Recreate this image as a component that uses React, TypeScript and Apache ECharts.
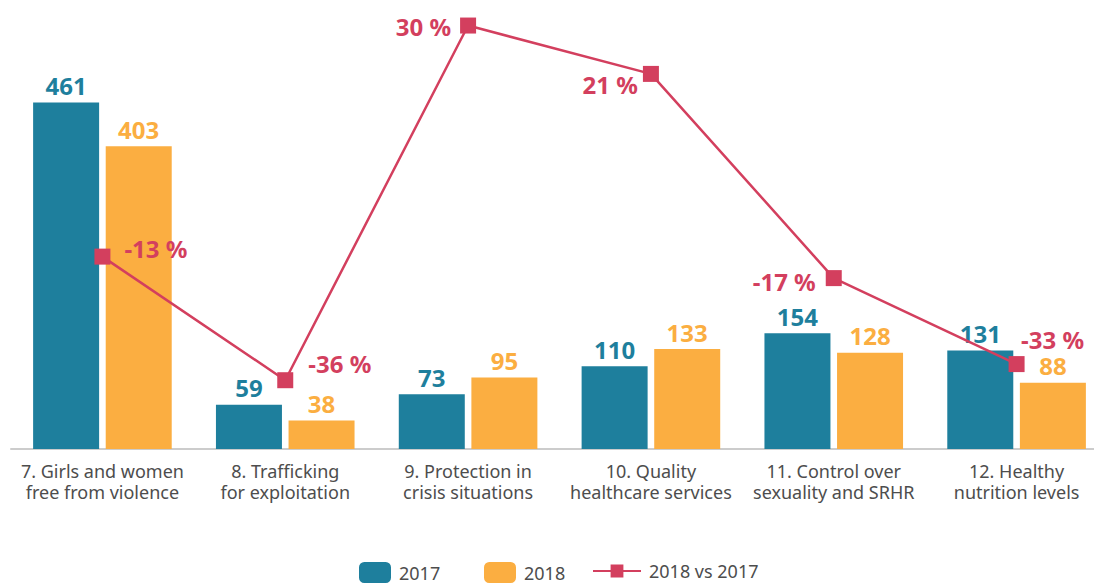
import React, { useEffect, useRef } from "react";
import * as echarts from "echarts";

const categories = [
  "7. Girls and women\nfree from violence",
  "8. Trafficking\nfor exploitation",
  "9. Protection in\ncrisis situations",
  "10. Quality\nhealthcare services",
  "11. Control over\nsexuality and SRHR",
  "12. Healthy\nnutrition levels",
];
const values2017 = [461, 59, 73, 110, 154, 131];
const values2018 = [403, 38, 95, 133, 128, 88];
const changePct = [-13, -36, 30, 21, -17, -33];

const BLUE = "#1e7f9d";
const ORANGE = "#fbae41";
const RED = "#d33f5e";
const FONT = "Noto Sans";

const pctLabelPlacement = [
  { position: "right", distance: 14, offset: [0, -8] },
  { position: "right", distance: 15, offset: [0, -17] },
  { position: "left", distance: 9, offset: [0, 1] },
  { position: "left", distance: 5, offset: [0, 11] },
  { position: "left", distance: 10, offset: [0, 3] },
  { position: "top", distance: 5, offset: [36, 0] },
];

export default function App() {
  const ref = useRef<HTMLDivElement>(null);
  useEffect(() => {
    if (!ref.current) return;
    const chart = echarts.init(ref.current, null, { renderer: "svg" });
    const legendText = { color: "#4d4d4d", fontSize: 18, fontFamily: FONT, padding: [2, 0, 0, 3] };
    chart.setOption({
      animation: false,
      grid: { left: 11, width: 1097, top: 25, bottom: 134, containLabel: false },
      legend: [
        { data: ["2017"], left: 354, top: 557, itemWidth: 32, itemHeight: 21, textStyle: legendText, selectedMode: false },
        { data: ["2018"], left: 479, top: 557, itemWidth: 32, itemHeight: 21, textStyle: legendText, selectedMode: false },
        { data: ["2018 vs 2017"], left: 587, top: 557, itemWidth: 48, itemHeight: 16, textStyle: legendText, selectedMode: false },
      ],
      xAxis: {
        type: "category",
        data: categories,
        axisLine: { show: true, lineStyle: { color: "#cccccc", width: 2 } },
        axisTick: { show: false },
        axisLabel: {
          interval: 0,
          margin: 11,
          color: "#4d4d4d",
          fontSize: 18,
          lineHeight: 21,
          fontFamily: FONT,
        },
      },
      yAxis: [
        { type: "value", min: 0, max: 564.2, show: false, splitLine: { show: false } },
        { type: "value", min: -48.8, max: 30.1, show: false, splitLine: { show: false } },
      ],
      series: [
        {
          name: "2017",
          type: "bar",
          data: values2017,
          itemStyle: { color: BLUE },
          barWidth: 66,
          barGap: "10%",
          label: {
            show: true,
            position: "top",
            distance: 5,
            color: BLUE,
            fontSize: 24,
            fontWeight: "bold",
            fontFamily: FONT,
          },
        },
        {
          name: "2018",
          type: "bar",
          data: values2018,
          itemStyle: { color: ORANGE },
          barWidth: 66,
          barGap: "10%",
          label: {
            show: true,
            position: "top",
            distance: 5,
            color: ORANGE,
            fontSize: 24,
            fontWeight: "bold",
            fontFamily: FONT,
          },
        },
        {
          name: "2018 vs 2017",
          type: "line",
          yAxisIndex: 1,
          clip: false,
          data: changePct.map((v, i) => ({
            value: v,
            label: pctLabelPlacement[i],
          })),
          symbol: "rect",
          symbolSize: 16,
          lineStyle: { color: RED, width: 2.5 },
          itemStyle: { color: RED },
          z: 5,
          label: {
            show: true,
            formatter: (p: any) => `${p.value} %`,
            color: RED,
            fontSize: 24,
            fontWeight: "bold",
            fontFamily: FONT,
          },
        },
      ],
    });
    return () => chart.dispose();
  }, []);
  return (
    <div style={{ position: "absolute", left: 0, top: 0, width: 1094, height: 583, overflow: "hidden", background: "#fff" }}>
      <div ref={ref} style={{ width: 1110, height: 583 }} />
    </div>
  );
}
